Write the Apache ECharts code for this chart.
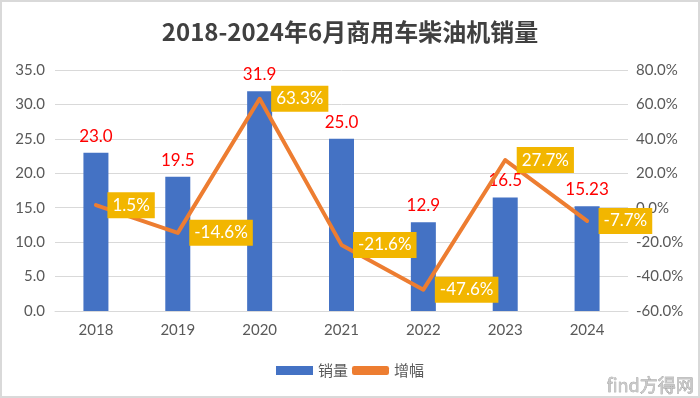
<!DOCTYPE html>
<html>
<head>
<meta charset="utf-8">
<script src="https://cdn.jsdelivr.net/npm/echarts@6/dist/echarts.min.js"></script>
<style>
  html, body { margin: 0; padding: 0; background: #fff; }
  #chart { width: 700px; height: 398px; box-sizing: border-box; border: 2px solid #d9d9d9; }
</style>
</head>
<body>
<div id="chart"></div>
<script>
// 数据
const years = ['2018', '2019', '2020', '2021', '2022', '2023', '2024'];
const sales = [23.0, 19.5, 31.9, 25.0, 12.9, 16.5, 15.23];   // 销量（万台）
const growth = [1.5, -14.6, 63.3, -21.6, -47.6, 27.7, -7.7]; // 增幅 %

const font = 'Lato, "Noto Sans CJK SC", sans-serif';
const myChart = echarts.init(document.getElementById('chart'));

const options = {
  animation: false,
  textStyle: { fontFamily: font },
  title: {
    text: '2018-2024年6月商用车柴油机销量',
    left: 'center',
    top: 13,
    textStyle: {
      fontFamily: '"Noto Sans CJK SC", sans-serif',
      fontSize: 24,
      fontWeight: 'bold',
      color: '#404040'
    }
  },
  legend: {
    bottom: 13,
    left: 'center',
    itemWidth: 37,
    itemHeight: 9,
    itemGap: 4,
    textStyle: { fontFamily: '"Noto Sans CJK SC", sans-serif', fontSize: 15, color: '#595959' },
    data: [
      { name: '销量', icon: 'rect' },
      { name: '增幅', icon: 'roundRect', itemStyle: { color: '#ED7D31' } }
    ]
  },
  grid: { left: 53, right: 70, top: 68, bottom: 85 },
  xAxis: {
    type: 'category',
    data: years,
    axisTick: { show: false },
    axisLine: { lineStyle: { color: '#d9d9d9' } },
    axisLabel: { color: '#595959', fontSize: 15, margin: 12, fontFamily: font }
  },
  yAxis: [
    {
      type: 'value',
      min: 0, max: 35, interval: 5,
      axisLabel: { color: '#595959', fontSize: 15, margin: 10, formatter: v => v.toFixed(1) },
      splitLine: { lineStyle: { color: '#d9d9d9', width: 1 } },
      axisLine: { show: false }, axisTick: { show: false }
    },
    {
      type: 'value',
      min: -60, max: 80, interval: 20,
      axisLabel: { color: '#595959', fontSize: 15, margin: 8, formatter: v => v.toFixed(1) + '%' },
      splitLine: { show: false },
      axisLine: { show: false }, axisTick: { show: false }
    }
  ],
  series: [
    {
      name: '销量',
      type: 'bar',
      data: sales,
      barWidth: 25,
      itemStyle: { color: '#4472C4' },
      label: {
        show: true,
        position: 'top',
        distance: 8,
        color: '#FF0000',
        fontSize: 17,
        formatter: p => Number.isInteger(Math.round(p.value * 100) / 10) ? p.value.toFixed(1) : String(p.value)
      },
      z: 2
    },
    {
      name: '增幅',
      type: 'line',
      yAxisIndex: 1,
      data: growth,
      symbol: 'circle',
      symbolSize: 1,
      showSymbol: true,
      lineStyle: { color: '#ED7D31', width: 4, cap: 'round', join: 'round' },
      itemStyle: { color: '#ED7D31' },
      label: {
        show: true,
        position: 'right',
        distance: 11,
        color: '#fff',
        fontSize: 17,
        backgroundColor: '#F2B600',
        padding: [5, 5, 4, 5],
        formatter: p => p.value.toFixed(1) + '%'
      },
      z: 3
    }
  ],
  graphic: [
    {
      type: 'text',
      right: 4,
      bottom: 2,
      style: {
        text: 'find方得网',
        fontSize: 18,
        fontFamily: '"Noto Sans CJK SC", sans-serif',
        fill: '#c8c8c8',
        stroke: '#888',
        lineWidth: 0.5
      }
    }
  ]
};
myChart.setOption(options);
</script>
</body>
</html>
